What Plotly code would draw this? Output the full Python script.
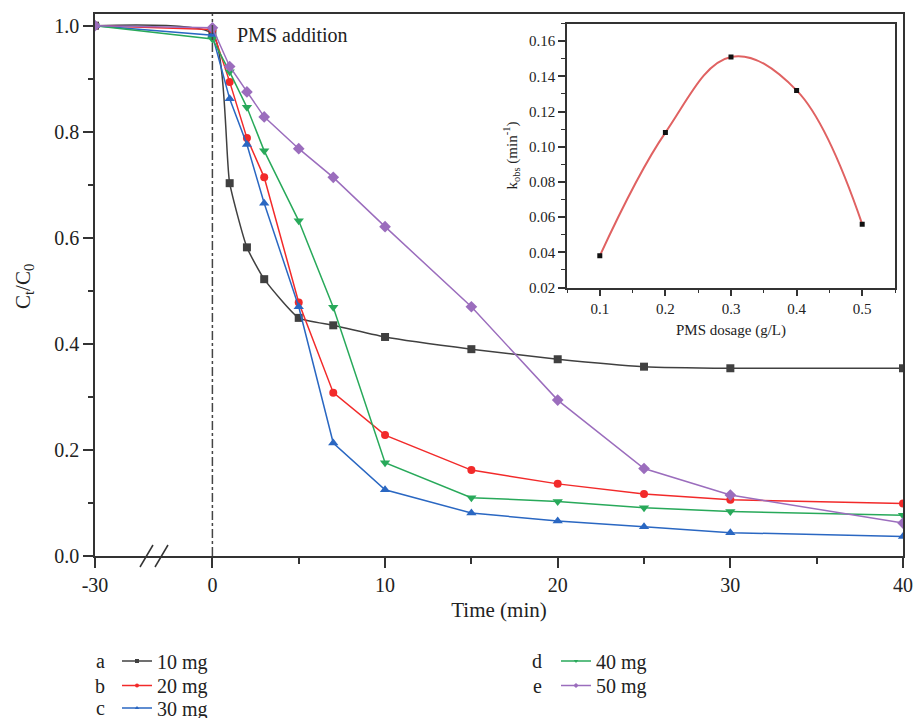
import plotly.graph_objects as go

# ---------------- data ----------------
time_min = [-30, 0, 1, 2, 3, 5, 7, 10, 15, 20, 25, 30, 40]
series_names = ["10 mg", "20 mg", "30 mg", "40 mg", "50 mg"]
series_letters = ["a", "b", "c", "d", "e"]
ct_a = [1.0, 0.985, 0.703, 0.582, 0.522, 0.449, 0.435, 0.413, 0.390, 0.371, 0.357, 0.354, 0.354]
ct_b = [1.0, 0.993, 0.894, 0.788, 0.714, 0.478, 0.308, 0.228, 0.162, 0.136, 0.117, 0.106, 0.099]
ct_c = [1.0, 0.982, 0.862, 0.776, 0.665, 0.470, 0.213, 0.125, 0.081, 0.066, 0.055, 0.044, 0.037]
ct_d = [1.0, 0.975, 0.913, 0.846, 0.764, 0.632, 0.469, 0.176, 0.110, 0.103, 0.091, 0.084, 0.077]
ct_e = [1.0, 0.996, 0.923, 0.875, 0.828, 0.768, 0.714, 0.621, 0.470, 0.294, 0.165, 0.115, 0.062]

pms_dosage = [0.1, 0.2, 0.3, 0.4, 0.5]
k_obs = [0.038, 0.108, 0.151, 0.132, 0.056]

x_ticks = [-30, 0, 10, 20, 30, 40]
x_minor = [5, 15, 25, 35]

# ---------------- styles ----------------
colors = ["#404040", "#f22a2a", "#2a67c2", "#28a95a", "#9b6dbd"]
symbols = ["square", "circle", "triangle-up", "triangle-down", "diamond"]
msizes = [8, 8, 9, 9, 9]
shapes_line = ["spline", "linear", "linear", "linear", "linear"]
FONT = "Liberation Serif, Times New Roman, serif"
AX = "#333333"
TXT = "#222222"

BREAK = 6.8 / 30.0  # compression of the pre-addition (negative) time span


def tx(t):
    return t * BREAK if t < 0 else t


W, H = 914, 718
L, R, T, B = 95, 11, 14, 162
PW, PH = W - L - R, H - T - B


def px2paper(px, py):
    return (px - L) / PW, (H - B - py) / PH


fig = go.Figure()
all_ct = [ct_a, ct_b, ct_c, ct_d, ct_e]
legend_ids = ["legend", "legend2", "legend3", "legend4", "legend5"]
for i, ys in enumerate(all_ct):
    fig.add_trace(go.Scatter(
        x=[tx(t) for t in time_min], y=ys, mode="lines+markers",
        name=series_names[i], showlegend=False,
        line=dict(color=colors[i], width=1.5, shape=shapes_line[i], smoothing=0.5),
        marker=dict(symbol=symbols[i], size=msizes[i], color=colors[i]),
        xaxis="x", yaxis="y",
    ))
    # legend key (small marker, as in the original legend)
    fig.add_trace(go.Scatter(
        x=[None], y=[None], mode="lines+markers", name=series_names[i],
        line=dict(color=colors[i], width=1.5),
        marker=dict(symbol=symbols[i], size=4, color=colors[i]),
        legend=legend_ids[i], xaxis="x", yaxis="y",
    ))

fig.add_trace(go.Scatter(
    x=pms_dosage, y=k_obs, mode="lines", line=dict(color="#e06262", width=2, shape="spline", smoothing=1.1),
    showlegend=False, xaxis="x2", yaxis="y2"))
fig.add_trace(go.Scatter(
    x=pms_dosage, y=k_obs, mode="markers", marker=dict(symbol="square", size=5, color="#111111"),
    showlegend=False, xaxis="x2", yaxis="y2"))

# inset domain from pixel box
ix0, iy0 = px2paper(567, 287.5)
ix1, iy1 = px2paper(895, 23.5)

axis_common = dict(showline=True, linecolor=AX, linewidth=1.5, mirror=True, showgrid=False,
                   zeroline=False, ticks="outside", tickcolor=AX, tickwidth=1.5, automargin=False)

legend_rows = [(117, 661), (117, 685.5), (117, 708), (556, 661), (556, 685.5)]
legend_layout = {}
for lid, (lx, ly) in zip(legend_ids, legend_rows):
    legend_layout[lid] = dict(x=lx / W, y=1 - ly / H, xref="container", yref="container",
                              xanchor="left", yanchor="middle", orientation="v",
                              font=dict(size=20), bgcolor="rgba(0,0,0,0)", itemwidth=30)

fig.update_layout(
    width=W, height=H, margin=dict(l=L, r=R, t=T, b=B, autoexpand=False),
    paper_bgcolor="white", plot_bgcolor="white",
    font=dict(family=FONT, size=20, color=TXT),
    xaxis=dict(axis_common, range=[tx(-30), 40], tickmode="array", tickvals=[tx(t) for t in x_ticks],
               ticktext=[str(t) for t in x_ticks], ticklen=10,
               minor=dict(tickmode="array", tickvals=x_minor, ticklen=6, tickcolor=AX, tickwidth=1.5),
               title=dict(text="Time (min)", font=dict(size=21), standoff=8),
               tickfont=dict(size=20), domain=[0, 1]),
    yaxis=dict(axis_common, range=[0, 1.022], tick0=0, dtick=0.2, tickformat=".1f", ticklen=10,
               minor=dict(dtick=0.1, ticklen=5, tickcolor=AX, tickwidth=1.5),
               tickfont=dict(size=20), domain=[0, 1]),
    xaxis2=dict(axis_common, domain=[ix0, ix1], anchor="y2", range=[0.05, 0.55], tick0=0.1, dtick=0.1,
                ticklen=7, tickfont=dict(size=15), tickformat=".1f",
                minor=dict(dtick=0.05, ticklen=4, tickcolor=AX, tickwidth=1.2),
                title=dict(text="PMS dosage (g/L)", font=dict(size=15), standoff=8)),
    yaxis2=dict(axis_common, domain=[iy0, iy1], anchor="x2", range=[0.02, 0.17], tick0=0.02, dtick=0.02,
                ticklen=7, tickfont=dict(size=15), tickformat=".2f",
                minor=dict(dtick=0.01, ticklen=4, tickcolor=AX, tickwidth=1.2),
                title=dict(text="k<sub>obs</sub> (min<sup>-1</sup>)", font=dict(size=15), standoff=8)),
    **legend_layout,
)

# main y-axis title (placed explicitly)
ytx, yty = px2paper(24, 287)
fig.add_annotation(x=ytx, y=yty, xref="paper", yref="paper", text="C<sub>t</sub>/C<sub>0</sub>",
                   textangle=-90, showarrow=False, xanchor="center", yanchor="middle",
                   font=dict(size=21, color=TXT))

# vertical dash-dot line at PMS addition
fig.add_shape(type="line", xref="x", yref="paper", x0=0, x1=0, y0=0, y1=1,
              line=dict(color="#444444", width=1.5, dash="dashdot"))

# axis break marks
for (a, b) in [((140, 567), (153, 545)), ((155, 567), (168, 545))]:
    xa, ya = px2paper(*a)
    xb, yb = px2paper(*b)
    fig.add_shape(type="line", xref="paper", yref="paper", x0=xa, y0=ya, x1=xb, y1=yb,
                  line=dict(color=AX, width=1.5))

fig.add_annotation(x=tx(1.3), y=1.0, xref="x", yref="y", text="PMS addition", showarrow=False,
                   xanchor="left", yanchor="middle", font=dict(size=20, color=TXT), yshift=-9)

# legend letters
letter_pos = [(100, 661), (100, 685.5), (100, 708), (537, 661), (537, 685.5)]
for letter, (lx, ly) in zip(series_letters, letter_pos):
    px_, py_ = px2paper(lx, ly)
    fig.add_annotation(x=px_, y=py_, xref="paper", yref="paper", text=letter, showarrow=False,
                       xanchor="center", yanchor="middle", font=dict(size=20, color=TXT))

fig.write_html("out.html")
